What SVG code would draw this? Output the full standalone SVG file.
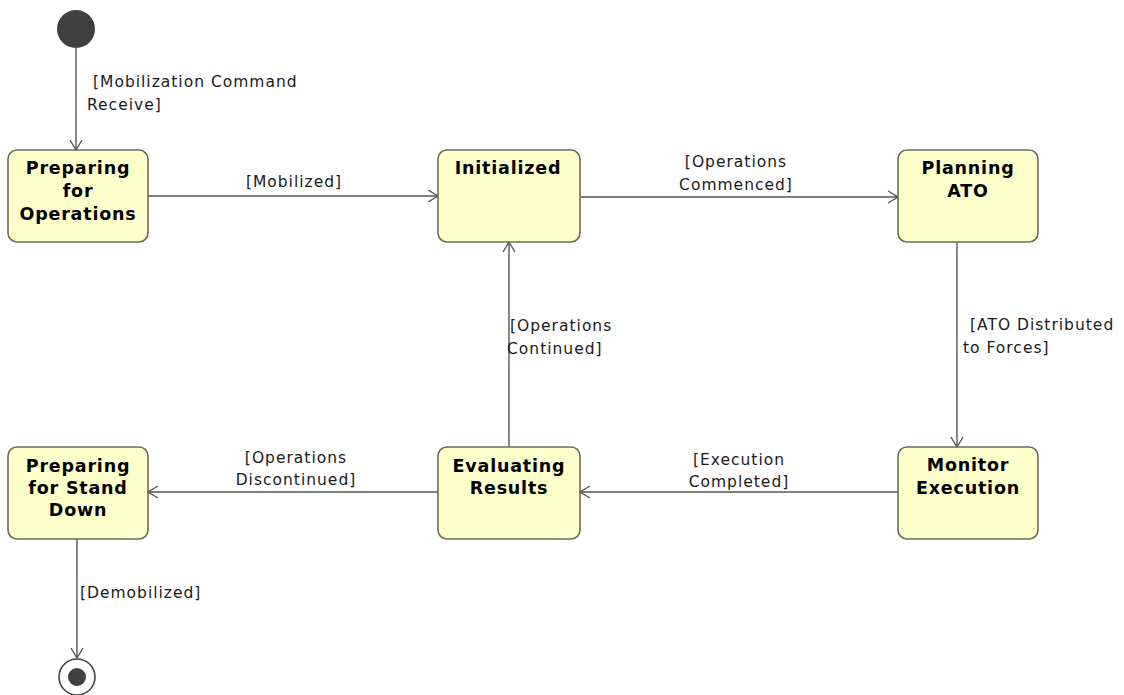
<svg xmlns="http://www.w3.org/2000/svg" width="1124" height="695" viewBox="0 0 1124 695">
  <defs>
    <marker id="open-arrow" viewBox="0 0 12 14" markerWidth="12" markerHeight="14" refX="11" refY="7" orient="auto" markerUnits="userSpaceOnUse">
      <path d="M1,1 L11,7 L1,13" fill="none" stroke="#555" stroke-width="1.4"/>
    </marker>
    <style>
      .state { fill: #ffffcc; stroke: #6b6b5a; stroke-width: 1.6; }
      .name { font-family: "DejaVu Sans", Verdana, sans-serif; font-weight: bold; font-size: 17.5px; letter-spacing: 0.8px; fill: #000; text-anchor: middle; }
      .edge { fill: none; stroke: #555; stroke-width: 1.4; marker-end: url(#open-arrow); }
      .guard { font-family: "DejaVu Sans", Verdana, sans-serif; font-size: 15.5px; letter-spacing: 1px; fill: #1a1a1a; }
      .mid { text-anchor: middle; }
    </style>
  </defs>
  <rect width="1124" height="695" fill="#ffffff"/>

  <!-- transitions -->
  <g id="connectors">
    <line class="edge" x1="76" y1="48" x2="76" y2="150"/>
    <line class="edge" x1="148" y1="196" x2="438" y2="196"/>
    <line class="edge" x1="580" y1="197" x2="898" y2="197"/>
    <line class="edge" x1="957" y1="242" x2="957" y2="447"/>
    <line class="edge" x1="898" y1="492" x2="580" y2="492"/>
    <line class="edge" x1="438" y1="492" x2="148" y2="492"/>
    <line class="edge" x1="509" y1="447" x2="509" y2="242"/>
    <line class="edge" x1="77" y1="539" x2="77" y2="658"/>

    <text class="guard" x="93" y="87">[Mobilization Command</text>
    <text class="guard" x="87" y="110">Receive]</text>
    <text class="guard mid" x="294" y="187">[Mobilized]</text>
    <text class="guard mid" x="736" y="167">[Operations</text>
    <text class="guard mid" x="736" y="190">Commenced]</text>
    <text class="guard" x="970" y="330">[ATO Distributed</text>
    <text class="guard" x="963" y="353">to Forces]</text>
    <text class="guard" x="510" y="331">[Operations</text>
    <text class="guard" x="507" y="354">Continued]</text>
    <text class="guard mid" x="739" y="465">[Execution</text>
    <text class="guard mid" x="739" y="487">Completed]</text>
    <text class="guard mid" x="296" y="463">[Operations</text>
    <text class="guard mid" x="296" y="485">Discontinued]</text>
    <text class="guard" x="80" y="598">[Demobilized]</text>
  </g>

  <!-- pseudo states -->
  <g id="initial">
    <circle cx="76" cy="29" r="19" fill="#404040"/>
  </g>
  <g id="final">
    <circle cx="77" cy="677" r="18" fill="#ffffff" stroke="#444" stroke-width="1.6"/>
    <circle cx="77" cy="677" r="9" fill="#404040"/>
  </g>

  <!-- states -->
  <g id="preparing-operations">
    <rect class="state" x="8" y="150" width="140" height="92" rx="9"/>
    <text class="name" x="78" y="174">Preparing</text>
    <text class="name" x="78" y="197">for</text>
    <text class="name" x="78" y="220">Operations</text>
  </g>
  <g id="initialized">
    <rect class="state" x="438" y="150" width="142" height="92" rx="9"/>
    <text class="name" x="508" y="174">Initialized</text>
  </g>
  <g id="planning-ato">
    <rect class="state" x="898" y="150" width="140" height="92" rx="9"/>
    <text class="name" x="968" y="174">Planning</text>
    <text class="name" x="968" y="197">ATO</text>
  </g>
  <g id="monitor-execution">
    <rect class="state" x="898" y="447" width="140" height="92" rx="9"/>
    <text class="name" x="968" y="471">Monitor</text>
    <text class="name" x="968" y="494">Execution</text>
  </g>
  <g id="evaluating-results">
    <rect class="state" x="438" y="447" width="142" height="92" rx="9"/>
    <text class="name" x="509" y="472">Evaluating</text>
    <text class="name" x="509" y="494">Results</text>
  </g>
  <g id="preparing-stand-down">
    <rect class="state" x="8" y="447" width="140" height="92" rx="9"/>
    <text class="name" x="78" y="472">Preparing</text>
    <text class="name" x="78" y="494">for Stand</text>
    <text class="name" x="78" y="516">Down</text>
  </g>
</svg>
